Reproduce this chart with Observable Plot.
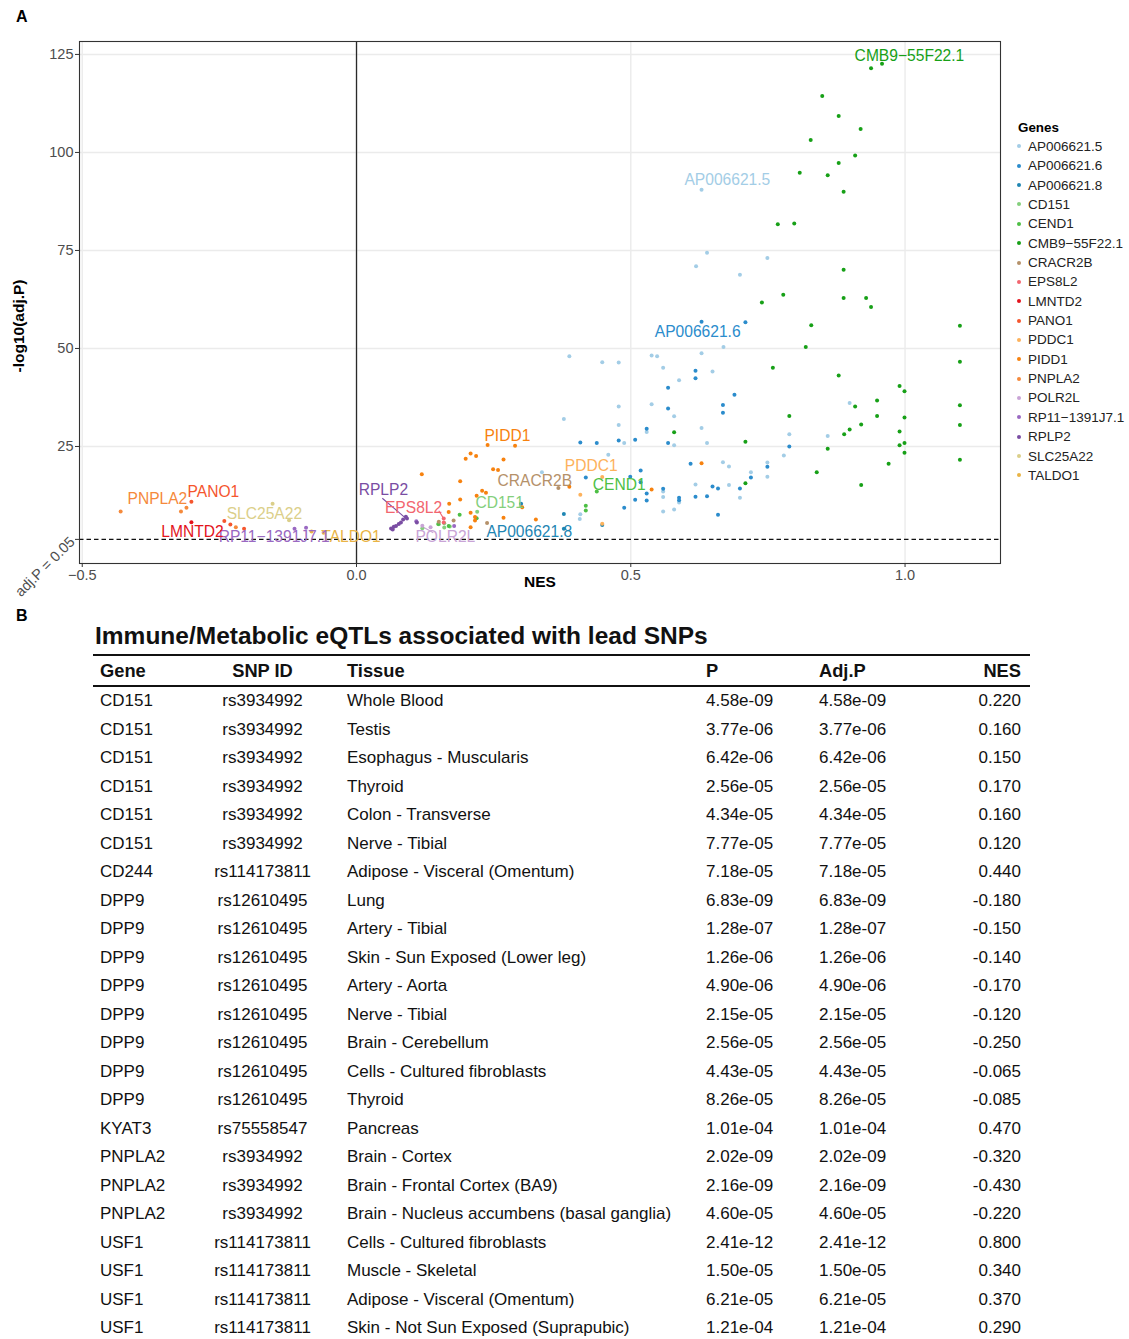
<!DOCTYPE html>
<html><head><meta charset="utf-8">
<script src="https://cdn.jsdelivr.net/npm/d3@7"></script>
<script src="https://cdn.jsdelivr.net/npm/@observablehq/plot@0.6"></script>
<style>
body{margin:0;background:#fff;font-family:"Liberation Sans",Arial,Helvetica,sans-serif;}
#page{position:relative;width:1129px;height:1339px;overflow:hidden;background:#fff;}
#chart{position:absolute;left:0;top:0;}
.panel{position:absolute;font-weight:bold;font-size:16px;color:#000;}
#legend{position:absolute;left:1012px;top:118px;font-size:13.5px;color:#222;}
#legend .ttl{font-weight:bold;font-size:13.4px;color:#000;height:19px;line-height:19px;margin-left:6px;}
#legend .it{height:19.35px;line-height:19.35px;white-space:nowrap;}
#legend .dot{display:inline-block;width:4px;height:4px;border-radius:2px;margin:0 7px 2px 5px;vertical-align:middle;}
#ttl{position:absolute;left:95px;top:622px;font-weight:bold;font-size:24.5px;color:#111;white-space:nowrap;}
#tbl{position:absolute;left:93px;top:654px;width:937px;border-collapse:collapse;table-layout:fixed;color:#111;}
#tbl th{font-weight:bold;font-size:18.3px;height:29px;padding:0;border-top:2.5px solid #111;border-bottom:2.5px solid #111;}
#tbl td{font-size:17px;height:28.5px;padding:0;}
.c0{text-align:left;padding-left:7px !important;}
.c1{text-align:center;}
.c2{text-align:left;padding-left:27px !important;}
.c3,.c4{text-align:left;padding-left:7px !important;}
.c5{text-align:right;padding-right:9px !important;}
</style></head><body>
<div id="page"><div id="chart"></div></div>
<script>
// ---------- Panel A data ----------
const genes = ["AP006621.5","AP006621.6","AP006621.8","CD151","CEND1","CMB9−55F22.1","CRACR2B","EPS8L2","LMNTD2","PANO1","PDDC1","PIDD1","PNPLA2","POLR2L","RP11−1391J7.1","RPLP2","SLC25A22","TALDO1"];
const geneColors = ["#a3cde6","#2b8ccc","#1f86b3","#84cf7c","#4dbf45","#17a017","#b5916a","#f2666f","#e3141c","#f5562e","#fdb25c","#f7820f","#f58a3c","#c9a4d6","#9a69c2","#7a4da3","#dbcf8a","#e9b446"];

// [NES, -log10(adj.P)] per gene
const ptsAP0066215 = [[0.629,90.5],[0.639,74.4],[0.749,73.1],[0.619,71.0],[0.699,68.8],[0.669,50.4],[0.629,48.8],[0.388,48.0],[0.448,46.5],[0.478,46.4],[0.538,48.2],[0.548,48.0],[0.559,45.1],[0.649,44.1],[0.588,41.9],[0.899,36.1],[0.478,35.2],[0.538,35.8],[0.579,32.7],[0.378,32.0],[0.478,30.5],[0.529,28.7],[0.629,29.7],[0.789,28.1],[0.859,27.7],[0.488,25.9],[0.579,25.3],[0.639,25.9],[0.459,22.9],[0.779,22.7],[0.668,21.0],[0.679,19.9],[0.749,20.9],[0.338,18.4],[0.719,18.4],[0.749,17.3],[0.559,13.5],[0.559,12.1],[0.679,15.2],[0.618,15.3],[0.699,11.9],[0.588,10.7],[0.408,7.7],[0.559,8.4],[0.579,8.9],[0.407,6.5]];
const ptsAP0066216 = [[0.629,56.8],[0.709,56.7],[0.618,44.3],[0.618,42.4],[0.568,40.0],[0.689,38.2],[0.668,35.6],[0.568,34.7],[0.668,33.6],[0.529,29.5],[0.408,26.0],[0.438,25.9],[0.478,26.5],[0.508,26.7],[0.568,25.9],[0.789,25.0],[0.609,20.6],[0.749,19.8],[0.418,17.1],[0.499,17.3],[0.518,18.9],[0.719,17.1],[0.518,15.9],[0.529,13.0],[0.559,14.2],[0.649,14.8],[0.659,14.3],[0.699,14.3],[0.508,11.4],[0.529,11.2],[0.588,11.9],[0.588,11.3],[0.618,12.2],[0.639,12.3],[0.488,9.4],[0.659,7.6]];
const ptsAP0066218 = [[0.300,10.4],[0.378,7.8],[0.378,4.0],[0.448,5.0]];
const ptsCD151 = [[0.22,8.34],[0.16,5.42],[0.15,5.19],[0.17,4.59],[0.16,4.36],[0.12,4.11]];
const ptsCEND1 = [[0.438,13.5],[0.418,9.9],[0.418,8.7],[0.188,7.6],[0.219,6.7],[0.168,4.7],[0.149,5.2]];
const ptsCMB9 = [[0.938,121.5],[0.958,122.6],[0.849,114.4],[0.879,109.3],[0.919,106.0],[0.828,103.2],[0.909,99.2],[0.879,97.3],[0.808,94.8],[0.859,94.2],[0.888,90.0],[0.768,81.7],[0.798,81.9],[0.888,70.1],[0.778,63.7],[0.739,61.7],[0.888,62.9],[0.929,62.9],[0.938,60.6],[0.829,55.9],[1.100,55.8],[0.819,50.4],[1.100,46.6],[0.759,45.1],[0.879,43.1],[0.990,40.4],[0.999,39.1],[0.949,36.7],[0.909,35.2],[1.100,35.5],[0.789,32.8],[0.949,32.8],[0.999,32.4],[0.920,30.6],[1.100,30.5],[0.899,29.3],[0.889,28.1],[0.579,28.6],[0.990,28.8],[0.709,26.2],[0.990,25.3],[0.999,25.9],[0.999,23.4],[0.859,24.4],[1.100,21.6],[0.970,20.6],[0.839,18.4],[0.709,15.6],[0.920,15.2]];
const ptsCRACR2B = [[0.368,14.4],[0.177,6.1],[0.238,5.5],[0.150,5.8]];
const ptsEPS8L2 = [[0.159,6.6],[0.159,5.6]];
const ptsLMNTD2 = [[-0.301,5.7]];
const ptsPANO1 = [[-0.301,10.9],[-0.241,6.0],[-0.230,5.1],[-0.205,4.0]];
const ptsPDDC1 = [[0.448,17.2],[0.408,12.7],[0.448,5.3]];
const ptsPIDD1 = [[0.239,25.4],[0.289,25.2],[0.208,23.2],[0.199,21.9],[0.218,22.6],[0.268,21.7],[0.249,19.2],[0.258,19.0],[0.119,17.9],[0.189,16.1],[0.229,13.7],[0.236,13.2],[0.219,12.4],[0.189,11.5],[0.169,10.4],[0.208,8.1],[0.268,6.8],[0.327,6.4],[0.208,4.4],[0.168,8.3],[0.388,14.7],[0.629,20.7],[0.538,14.0],[0.216,7.0],[0.216,6.1],[0.302,9.5]];
const ptsPNPLA2 = [[-0.430,8.4],[-0.320,8.4],[-0.310,9.4],[-0.220,4.4]];
const ptsPOLR2L = [[0.120,4.8],[0.135,4.4]];
const ptsRP11 = [[-0.113,4.0],[-0.092,4.3],[0.109,5.9],[0.178,4.7]];
const ptsRPLP2 = [[0.063,4.1],[0.068,4.5],[0.072,4.7],[0.077,5.2],[0.081,5.6],[0.085,6.4],[0.090,7.1],[0.092,6.6],[0.066,3.8],[0.110,5.6]];
const ptsSLC25A22 = [[-0.153,10.4],[-0.123,6.2]];
const ptsTALDO1 = [[-0.082,3.3],[-0.060,3.0]];
const geneSeries = [ptsAP0066215,ptsAP0066216,ptsAP0066218,ptsCD151,ptsCEND1,ptsCMB9,ptsCRACR2B,ptsEPS8L2,ptsLMNTD2,ptsPANO1,ptsPDDC1,ptsPIDD1,ptsPNPLA2,ptsPOLR2L,ptsRP11,ptsRPLP2,ptsSLC25A22,ptsTALDO1];

// repelled gene labels
const labelGenes = ["CMB9−55F22.1","AP006621.5","AP006621.6","PIDD1","PDDC1","CRACR2B","CEND1","CD151","AP006621.8","RPLP2","EPS8L2","POLR2L","TALDO1","RP11−1391J7.1","SLC25A22","LMNTD2","PANO1","PNPLA2"];
const labelNES  = [1.008,0.676,0.622,0.275,0.428,0.325,0.479,0.261,0.315,0.049,0.104,0.162,-0.010,-0.150,-0.168,-0.299,-0.261,-0.363];
const labelLogP = [124.7,92.9,54.3,27.6,19.9,16.1,15.3,10.5,3.3,14.0,9.4,1.8,1.8,2.0,7.9,3.3,13.3,11.7];
// label connector segments
const segGenes = ["RPLP2","EPS8L2","POLR2L"];
const segFrom = [[0.047,11.8],[0.150,8.6],[0.140,3.0]];
const segTo   = [[0.089,6.8],[0.159,6.6],[0.122,4.4]];

const xTicks = [-0.5,0,0.5,1.0];
const yTicks = [25,50,75,100,125];
const cutoff = -Math.log10(0.05);

// ---------- Panel B data ----------
const tableHeader = ["Gene","SNP ID","Tissue","P","Adj.P","NES"];
const tableGene = ["CD151","CD151","CD151","CD151","CD151","CD151","CD244","DPP9","DPP9","DPP9","DPP9","DPP9","DPP9","DPP9","DPP9","KYAT3","PNPLA2","PNPLA2","PNPLA2","USF1","USF1","USF1","USF1"];
const tableSNP = ["rs3934992","rs3934992","rs3934992","rs3934992","rs3934992","rs3934992","rs114173811","rs12610495","rs12610495","rs12610495","rs12610495","rs12610495","rs12610495","rs12610495","rs12610495","rs75558547","rs3934992","rs3934992","rs3934992","rs114173811","rs114173811","rs114173811","rs114173811"];
const tableTissue = ["Whole Blood","Testis","Esophagus - Muscularis","Thyroid","Colon - Transverse","Nerve - Tibial","Adipose - Visceral (Omentum)","Lung","Artery - Tibial","Skin - Sun Exposed (Lower leg)","Artery - Aorta","Nerve - Tibial","Brain - Cerebellum","Cells - Cultured fibroblasts","Thyroid","Pancreas","Brain - Cortex","Brain - Frontal Cortex (BA9)","Brain - Nucleus accumbens (basal ganglia)","Cells - Cultured fibroblasts","Muscle - Skeletal","Adipose - Visceral (Omentum)","Skin - Not Sun Exposed (Suprapubic)"];
const tableP = ["4.58e-09","3.77e-06","6.42e-06","2.56e-05","4.34e-05","7.77e-05","7.18e-05","6.83e-09","1.28e-07","1.26e-06","4.90e-06","2.15e-05","2.56e-05","4.43e-05","8.26e-05","1.01e-04","2.02e-09","2.16e-09","4.60e-05","2.41e-12","1.50e-05","6.21e-05","1.21e-04"];
const tableAdjP = ["4.58e-09","3.77e-06","6.42e-06","2.56e-05","4.34e-05","7.77e-05","7.18e-05","6.83e-09","1.28e-07","1.26e-06","4.90e-06","2.15e-05","2.56e-05","4.43e-05","8.26e-05","1.01e-04","2.02e-09","2.16e-09","4.60e-05","2.41e-12","1.50e-05","6.21e-05","1.21e-04"];
const tableNES = [0.220,0.160,0.150,0.170,0.160,0.120,0.440,-0.180,-0.150,-0.140,-0.170,-0.120,-0.250,-0.065,-0.085,0.470,-0.320,-0.430,-0.220,0.800,0.340,0.370,0.290];

// ---------- build ----------
const points = genes.flatMap((g,i) => geneSeries[i].map(([x,y]) => ({gene:g, x, y})));
const labels = labelGenes.map((g,i) => ({gene:g, x:labelNES[i], y:labelLogP[i]}));
const segs = segGenes.map((g,i) => ({gene:g, x1:segFrom[i][0], y1:segFrom[i][1], x2:segTo[i][0], y2:segTo[i][1]}));
const font = "Liberation Sans, Arial, Helvetica, sans-serif";

const chart = Plot.plot({
  width: 1129, height: 600,
  marginLeft: 79, marginRight: 129, marginTop: 41, marginBottom: 37,
  x: {domain: [-0.505, 1.174]},
  y: {domain: [-4.85, 128.3]},
  color: {domain: genes, range: geneColors},
  style: {fontFamily: font, background: "white", overflow: "visible"},
  marks: [
    Plot.gridX(xTicks, {stroke: "#ebebeb", strokeOpacity: 1, strokeWidth: 1.4}),
    Plot.gridY(yTicks, {stroke: "#ebebeb", strokeOpacity: 1, strokeWidth: 1.4}),
    Plot.ruleX([0], {stroke: "#2a2a2a", strokeWidth: 1.3}),
    Plot.ruleY([cutoff], {stroke: "#111", strokeWidth: 1.3, strokeDasharray: "4.5,3"}),
    Plot.link(segs, {x1: "x1", y1: "y1", x2: "x2", y2: "y2", stroke: "gene", strokeWidth: 1.1}),
    Plot.dot(points, {x: "x", y: "y", fill: "gene", r: 2}),
    Plot.text(labels, {x: "x", y: "y", text: "gene", fill: "gene", fontSize: 15.6}),
    Plot.frame({stroke: "#333", strokeWidth: 1.1}),
    Plot.axisX(xTicks, {tickFormat: d3.format(".1f"), tickSize: 4, tickPadding: 2, fontSize: 14.5, fill: "#4d4d4d", stroke: "#333", label: null}),
    Plot.axisY(yTicks, {tickSize: 4, tickPadding: 2, fontSize: 14.5, fill: "#4d4d4d", stroke: "#333", label: null}),
    Plot.axisY([cutoff], {tickFormat: () => "adj.P = 0.05", tickRotate: -45, tickSize: 4, tickPadding: 3, fontSize: 14.5, fill: "#4d4d4d", stroke: "#333", label: null}),
    Plot.text(["NES"], {frameAnchor: "bottom", dy: 23, fontWeight: "bold", fontSize: 15.5, fill: "#000"}),
    Plot.text(["-log10(adj.P)"], {frameAnchor: "left", dx: -60, dy: 70, rotate: -90, fontWeight: "bold", fontSize: 15.5, fill: "#000"})
  ]
});
const page = document.getElementById("page");
document.getElementById("chart").appendChild(chart);

// panel letters
for (const [t, top] of [["A", 8], ["B", 607]]) {
  const d = document.createElement("div");
  d.className = "panel"; d.textContent = t;
  d.style.left = "16px"; d.style.top = top + "px";
  page.appendChild(d);
}

// legend
const leg = document.createElement("div");
leg.id = "legend";
leg.innerHTML = `<div class="ttl">Genes</div>` + genes.map((g,i) =>
  `<div class="it"><span class="dot" style="background:${geneColors[i]}"></span>${g}</div>`).join("");
page.appendChild(leg);

// table title
const ttl = document.createElement("div");
ttl.id = "ttl"; ttl.textContent = "Immune/Metabolic eQTLs associated with lead SNPs";
page.appendChild(ttl);

// table
const tbl = document.createElement("table");
tbl.id = "tbl";
const widths = [112, 115, 379, 113, 118, 100];
tbl.innerHTML = `<colgroup>${widths.map(w => `<col style="width:${w}px">`).join("")}</colgroup>` +
  `<thead><tr>${tableHeader.map((h,i) => `<th class="c${i}">${h}</th>`).join("")}</tr></thead>` +
  `<tbody>${tableGene.map((g,i) => `<tr><td class="c0">${g}</td><td class="c1">${tableSNP[i]}</td><td class="c2">${tableTissue[i]}</td><td class="c3">${tableP[i]}</td><td class="c4">${tableAdjP[i]}</td><td class="c5">${tableNES[i].toFixed(3)}</td></tr>`).join("")}</tbody>`;
page.appendChild(tbl);
</script>
</body></html>
